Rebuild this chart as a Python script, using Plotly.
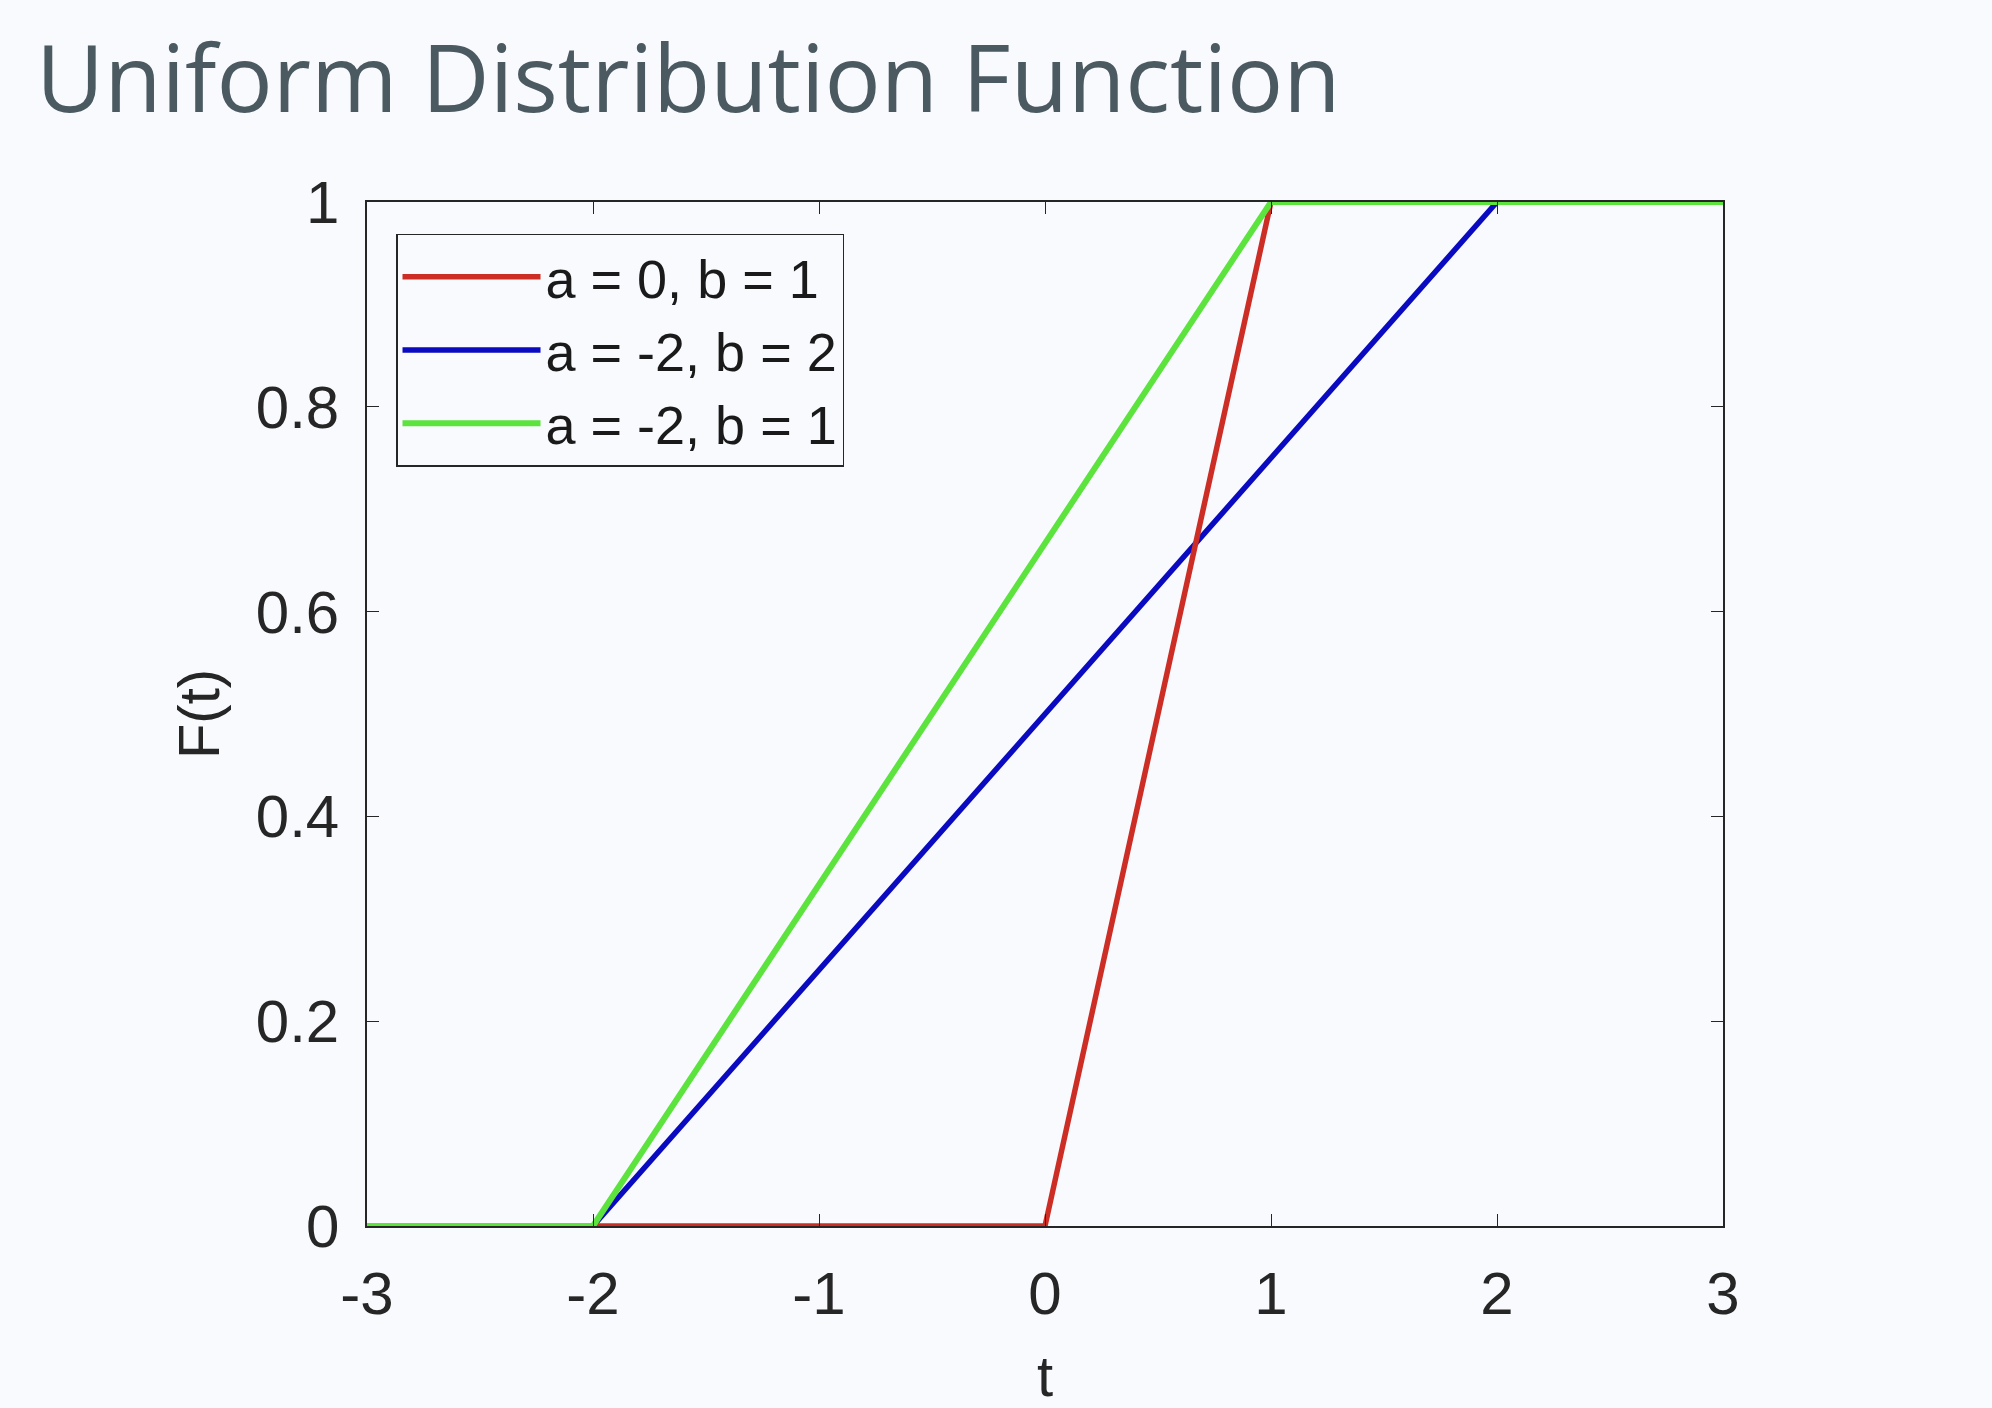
import plotly.graph_objects as go

# Data: breakpoints of each uniform CDF
t_red = [-3, 0, 1, 3]
F_red = [0, 0, 1, 1]
t_blue = [-3, -2, 2, 3]
F_blue = [0, 0, 1, 1]
t_green = [-3, -2, 1, 3]
F_green = [0, 0, 1, 1]
names = ["a = 0, b = 1", "a = -2, b = 2", "a = -2, b = 1"]
x_ticks = [-3, -2, -1, 0, 1, 2, 3]
x_tick_text = ["-3", "-2", "-1", "0", "1", "2", "3"]
y_ticks = [0, 0.2, 0.4, 0.6, 0.8, 1]
y_tick_text = ["0", "0.2", "0.4", "0.6", "0.8", "1"]

BG = "#F8FAFE"
AX = "#262626"
FONT = "Liberation Sans, Arial"

fig = go.Figure()
fig.add_trace(go.Scatter(x=t_blue, y=F_blue, mode="lines", name=names[1], legendrank=2,
                         line=dict(color="#0A0AC0", width=5.5)))
fig.add_trace(go.Scatter(x=t_red, y=F_red, mode="lines", name=names[0], legendrank=1,
                         line=dict(color="#CC2E26", width=5.5)))
fig.add_trace(go.Scatter(x=t_green, y=F_green, mode="lines", name=names[2], legendrank=3,
                         line=dict(color="#5CE33E", width=6)))

axis_common = dict(
    showgrid=False, zeroline=False, showline=True, linecolor=AX, linewidth=1.5,
    mirror="ticks", ticks="inside", ticklen=12, tickwidth=1.2, tickcolor=AX,
    tickfont=dict(family=FONT, size=60, color="#262626"),
)

fig.update_layout(
    width=1992, height=1408,
    paper_bgcolor=BG, plot_bgcolor=BG,
    margin=dict(l=367, r=269, t=202, b=182),
    title=dict(text="Uniform Distribution Function", xref="container", yref="container",
               x=36/1992, xanchor="left", y=1-79/1408, yanchor="middle",
               font=dict(family="Open Sans", size=93.5, color="#4B5961")),
    xaxis=dict(range=[-3, 3], tickvals=x_ticks, ticktext=x_tick_text, ticklabelstandoff=14,
               title=dict(text="t", font=dict(family=FONT, size=58, color="#262626"),
                          standoff=30),
               **axis_common),
    yaxis=dict(range=[0, 1], tickvals=y_ticks, ticktext=y_tick_text, ticklabelstandoff=14,
               title=dict(text="F(t)", font=dict(family=FONT, size=58, color="#262626"),
                          standoff=18),
               **axis_common),
    legend=dict(x=0.0214, y=0.969, xanchor="left", yanchor="top",
                bgcolor=BG, bordercolor=AX, borderwidth=1.5,
                font=dict(family=FONT, size=54, color="#1a1a1a"),
                itemwidth=138, traceorder="normal", tracegroupgap=0),
    showlegend=True,
)

fig.write_html(
    "out.html",
    config={"displayModeBar": False},
    post_script="document.body.style.margin='0';document.body.style.background='#F8FAFE';document.body.style.overflow='hidden';",
)
